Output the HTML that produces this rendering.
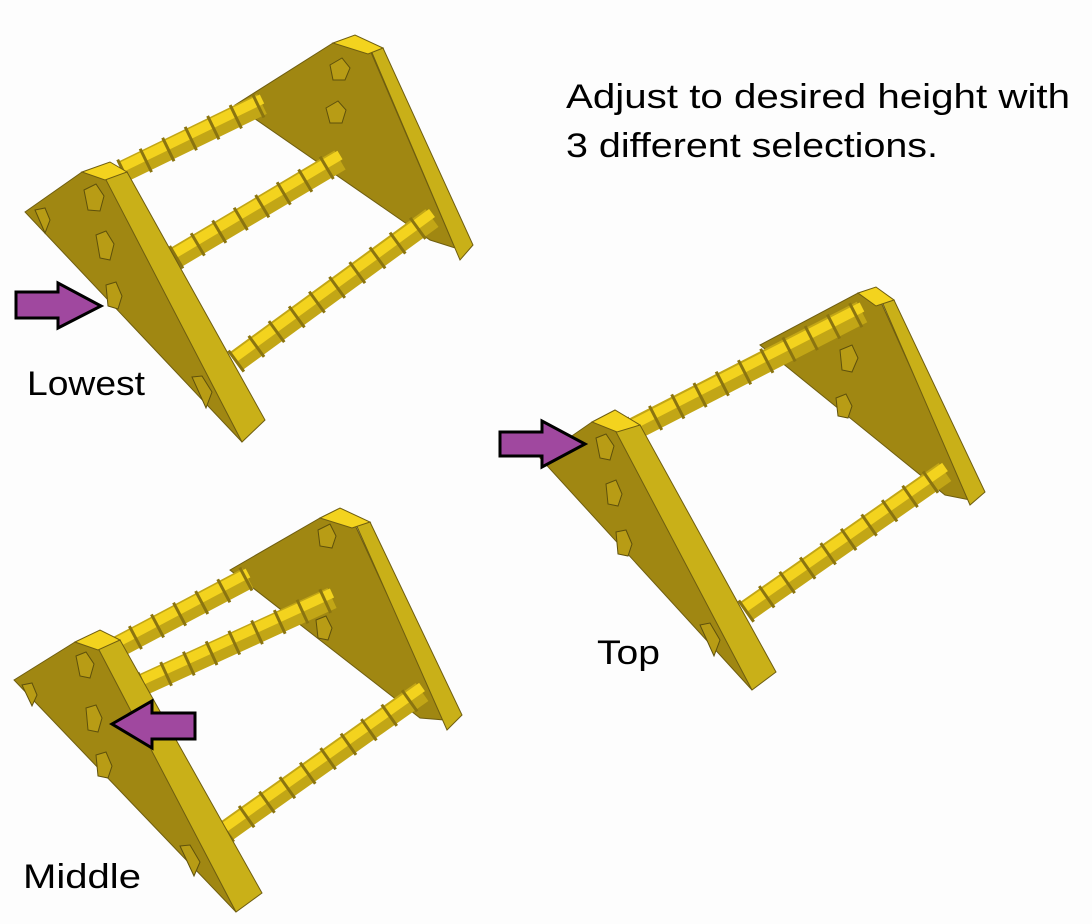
<!DOCTYPE html>
<html><head><style>
body{margin:0;background:#fdfdfd;}
svg{display:block;}
text{font-family:"Liberation Sans",sans-serif;fill:#000;}
.d{fill:#a08712;stroke:#6e5d10;stroke-width:1}
.l{fill:#c9b018;stroke:#6e5d10;stroke-width:1}
.t{fill:#f3d31e;stroke:#6e5d10;stroke-width:1}
.h{fill:#b89c15;stroke:#5e500c;stroke-width:1}
.a{fill:#a0489f;stroke:#000;stroke-width:3}
</style></head><body>
<svg width="1092" height="924" viewBox="0 0 1092 924" xmlns="http://www.w3.org/2000/svg">
<rect width="1092" height="924" fill="#fdfdfd"/>

<!-- ===== LOWEST ===== -->
<g>
<polygon class="d" points="235,105 333,43 370,50 455,248 430,240"/>
<polygon class="l" points="370,48 383,48 473,245 460,260"/>
<polygon class="t" points="333,43 355,35 383,48 368,54"/>
<polygon class="h" points="330,65 342,58 350,68 345,80 333,80"/>
<polygon class="h" points="326,108 338,101 346,110 342,123 330,123"/>
<g>
<line x1="122" y1="172" x2="262" y2="104" stroke="#c2a616" stroke-width="22"/>
<line x1="122" y1="167" x2="262" y2="99" stroke="#f3d31e" stroke-width="10"/>
<line x1="122" y1="172" x2="262" y2="104" stroke="#8a7410" stroke-width="26" stroke-dasharray="3 22"/>
<line x1="175" y1="258" x2="340" y2="160" stroke="#c2a616" stroke-width="22"/>
<line x1="175" y1="253" x2="340" y2="155" stroke="#f3d31e" stroke-width="10"/>
<line x1="175" y1="258" x2="340" y2="160" stroke="#8a7410" stroke-width="26" stroke-dasharray="3 22"/>
<line x1="235" y1="362" x2="432" y2="218" stroke="#c2a616" stroke-width="22"/>
<line x1="235" y1="357" x2="432" y2="213" stroke="#f3d31e" stroke-width="10"/>
<line x1="235" y1="362" x2="432" y2="218" stroke="#8a7410" stroke-width="26" stroke-dasharray="3 22"/>
</g>
<polygon class="d" points="25,212 82,172 108,178 242,442"/>
<polygon class="l" points="105,178 127,172 265,420 242,442"/>
<polygon class="t" points="82,172 110,162 127,172 105,180"/>
<polygon class="h" points="84,190 96,184 104,196 100,211 88,210"/>
<polygon class="h" points="96,235 106,231 114,244 110,260 100,258"/>
<polygon class="h" points="106,285 116,282 122,296 118,309 108,306"/>
<polygon class="h" points="35,210 45,208 50,220 45,233"/>
<polygon class="h" points="192,377 202,376 212,392 206,408"/>
</g>
<polygon class="a" points="16,292 58,292 58,283 101,306 58,328 58,318 16,318"/>
<text x="27" y="395" font-size="34" textLength="118" lengthAdjust="spacingAndGlyphs">Lowest</text>

<!-- ===== TOP ===== -->
<g>
<polygon class="d" points="760,345 858,293 880,300 970,500 945,495"/>
<polygon class="l" points="880,297 894,300 985,492 970,505"/>
<polygon class="t" points="858,293 876,287 894,300 876,306"/>
<polygon class="h" points="840,350 852,345 858,358 852,372 842,370"/>
<polygon class="h" points="836,398 846,394 852,406 848,418 838,416"/>
<line x1="632" y1="430" x2="862" y2="312" stroke="#c2a616" stroke-width="23"/>
<line x1="632" y1="425" x2="862" y2="307" stroke="#f3d31e" stroke-width="10"/>
<line x1="632" y1="430" x2="862" y2="312" stroke="#8a7410" stroke-width="27" stroke-dasharray="3 22"/>
<line x1="745" y1="612" x2="945" y2="472" stroke="#c2a616" stroke-width="22"/>
<line x1="745" y1="607" x2="945" y2="467" stroke="#f3d31e" stroke-width="10"/>
<line x1="745" y1="612" x2="945" y2="472" stroke="#8a7410" stroke-width="26" stroke-dasharray="3 22"/>
<polygon class="d" points="540,458 592,422 618,430 752,690"/>
<polygon class="l" points="615,430 640,425 776,672 752,690"/>
<polygon class="t" points="592,422 615,410 640,425 617,432"/>
<polygon class="h" points="596,438 606,434 614,446 610,460 600,458"/>
<polygon class="h" points="606,484 616,480 622,494 618,506 608,504"/>
<polygon class="h" points="616,532 626,530 632,544 628,556 618,554"/>
<polygon class="h" points="700,625 710,623 720,640 714,656"/>
</g>
<polygon class="a" points="500,432 542,432 542,421 585,444 542,467 542,456 500,456"/>
<text x="597" y="664" font-size="34" textLength="63" lengthAdjust="spacingAndGlyphs">Top</text>

<!-- ===== MIDDLE ===== -->
<g>
<polygon class="d" points="230,570 320,518 355,525 445,720 420,718"/>
<polygon class="l" points="355,522 370,522 462,715 447,730"/>
<polygon class="t" points="320,518 340,508 370,522 352,528"/>
<polygon class="h" points="318,530 330,524 336,536 332,548 320,546"/>
<polygon class="h" points="316,620 326,616 332,628 328,640 318,638"/>
<line x1="112" y1="650" x2="248" y2="578" stroke="#c2a616" stroke-width="22"/>
<line x1="112" y1="645" x2="248" y2="573" stroke="#f3d31e" stroke-width="10"/>
<line x1="112" y1="650" x2="248" y2="578" stroke="#8a7410" stroke-width="26" stroke-dasharray="3 22"/>
<line x1="142" y1="685" x2="332" y2="598" stroke="#c2a616" stroke-width="22"/>
<line x1="142" y1="680" x2="332" y2="593" stroke="#f3d31e" stroke-width="10"/>
<line x1="142" y1="685" x2="332" y2="598" stroke="#8a7410" stroke-width="26" stroke-dasharray="3 22"/>
<line x1="225" y1="832" x2="422" y2="692" stroke="#c2a616" stroke-width="22"/>
<line x1="225" y1="827" x2="422" y2="687" stroke="#f3d31e" stroke-width="10"/>
<line x1="225" y1="832" x2="422" y2="692" stroke="#8a7410" stroke-width="26" stroke-dasharray="3 22"/>
<polygon class="d" points="14,680 75,642 100,650 236,912"/>
<polygon class="l" points="98,648 120,640 262,893 236,912"/>
<polygon class="t" points="75,642 100,630 120,640 98,650"/>
<polygon class="h" points="76,656 86,652 94,664 90,678 80,676"/>
<polygon class="h" points="86,708 96,705 102,718 98,732 88,730"/>
<polygon class="h" points="96,755 106,752 112,766 108,778 98,776"/>
<polygon class="h" points="22,685 32,683 37,695 32,706"/>
<polygon class="h" points="180,846 190,845 200,862 194,876"/>
</g>
<polygon class="a" points="195,713 152,713 152,701 112,724 152,748 152,739 195,739"/>
<text x="23" y="888" font-size="34" textLength="118" lengthAdjust="spacingAndGlyphs">Middle</text>

<text x="566" y="108" font-size="34" textLength="504" lengthAdjust="spacingAndGlyphs">Adjust to desired height with</text>
<text x="566" y="157" font-size="34" textLength="372" lengthAdjust="spacingAndGlyphs">3 different selections.</text>
</svg>
</body></html>
